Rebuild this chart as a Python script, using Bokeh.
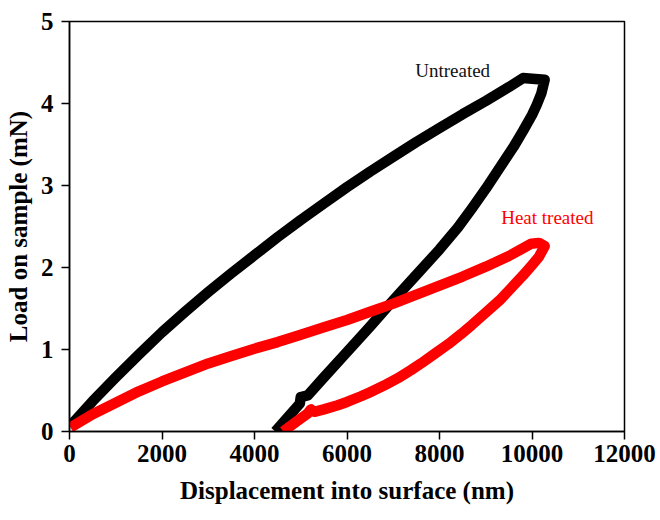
from bokeh.plotting import figure
from bokeh.models import Range1d, FixedTicker
from bokeh.core.properties import value
from bokeh.embed import file_html
from bokeh.resources import INLINE

# Untreated load-displacement (loading, hold, unloading)
untreated_x = [20, 500, 1000, 1500, 2000, 2500, 3000, 3500, 4000, 4500, 5000, 5500,
               6000, 6500, 7000, 7500, 8000, 8500, 9000, 9500, 9805, 10274,
               10200, 10100, 10000, 9800, 9600, 9400, 9200, 9000, 8700, 8400, 8000,
               7500, 7000, 6500, 6000, 5500, 5150, 5000, 4980, 4450]
untreated_y = [0.07, 0.37, 0.66, 0.94, 1.21, 1.46, 1.70, 1.93, 2.15, 2.37, 2.58, 2.78,
               2.98, 3.17, 3.35, 3.53, 3.70, 3.87, 4.03, 4.20, 4.31, 4.29,
               4.12, 3.98, 3.86, 3.66, 3.47, 3.30, 3.13, 2.96, 2.72, 2.49, 2.22,
               1.91, 1.60, 1.28, 0.97, 0.66, 0.44, 0.42, 0.34, 0.0]

# Heat treated load-displacement
heat_x = [20, 500, 1000, 1500, 2000, 2500, 3000, 3500, 4000, 4500, 5000, 5500,
          6000, 6500, 7000, 7500, 8000, 8500, 9000, 9500, 9985, 10150, 10274,
          10150, 10000, 9800, 9551, 9300, 9000, 8700, 8469, 8200, 7900, 7600,
          7386, 7100, 6800, 6500, 6303, 6000, 5800, 5500, 5292, 5220, 5150,
          4931, 4620]
heat_y = [0.05, 0.21, 0.35, 0.49, 0.61, 0.72, 0.83, 0.92, 1.01, 1.09, 1.18, 1.27,
          1.36, 1.46, 1.56, 1.67, 1.78, 1.89, 2.01, 2.14, 2.29, 2.30, 2.26,
          2.13, 2.03, 1.90, 1.75, 1.60, 1.45, 1.30, 1.19, 1.07, 0.95, 0.83,
          0.75, 0.65, 0.56, 0.48, 0.43, 0.36, 0.32, 0.27, 0.24, 0.27, 0.22,
          0.13, 0.0]

x_ticks = [0, 2000, 4000, 6000, 8000, 10000, 12000]
y_ticks = [0, 1, 2, 3, 4, 5]

labels = ["Untreated", "Heat treated"]
label_x = [8284, 10331]
label_y = [4.40, 2.61]
label_colors = ["#111111", "#ff0000"]

FONT = "Liberation Serif"

p = figure(width=660, height=520, output_backend="svg", toolbar_location=None,
           x_range=Range1d(0, 12000), y_range=Range1d(0, 5),
           min_border_left=69, min_border_right=36, min_border_top=21,
           min_border_bottom=89)
p.grid.visible = False
p.outline_line_color = "black"
p.outline_line_width = 1.5
p.background_fill_color = "white"
p.border_fill_color = "white"

p.line(untreated_x, untreated_y, line_color="black", line_width=10.5,
       line_join="round", line_cap="butt")
p.line(heat_x, heat_y, line_color="#ff0000", line_width=10.5,
       line_join="round", line_cap="butt")

for t, x, y, c in zip(labels, label_x, label_y, label_colors):
    p.text(x=[x], y=[y], text=[t], text_color=c, text_font=value(FONT),
           text_font_size="19px", text_align="center", text_baseline="middle")

for ax, ticks in ((p.xaxis[0], x_ticks), (p.yaxis[0], y_ticks)):
    ax.ticker = FixedTicker(ticks=ticks)
    ax.minor_tick_line_color = None
    ax.major_tick_in = 0
    ax.major_tick_out = 8
    ax.major_tick_line_width = 1.5
    ax.axis_line_width = 1.5
    ax.major_label_text_font = FONT
    ax.major_label_text_font_style = "bold"
    ax.major_label_text_font_size = "25px"
    ax.major_label_text_color = "black"
    ax.axis_label_text_font = FONT
    ax.axis_label_text_font_style = "bold"
    ax.axis_label_text_font_size = "25px"
    ax.axis_label_text_color = "black"

p.xaxis.axis_label = "Displacement into surface (nm)"
p.yaxis.axis_label = "Load on sample (mN)"
p.xaxis.major_label_standoff = 5
p.yaxis.major_label_standoff = 8
p.xaxis.axis_label_standoff = 12
p.yaxis.axis_label_standoff = 6

open("out.html", "w").write(file_html(p, INLINE))
